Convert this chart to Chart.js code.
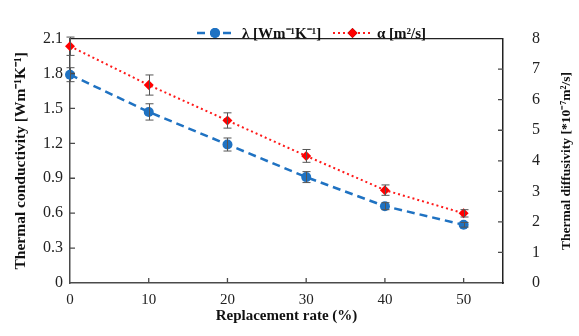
<!DOCTYPE html>
<html>
<head>
<meta charset="utf-8">
<script src="https://cdn.jsdelivr.net/npm/chart.js@4"></script>
<style>
  html, body { margin: 0; padding: 0; background: #fff; }
  #c { display: block; }
</style>
</head>
<body>
<canvas id="c" width="579" height="336"></canvas>
<script>
// dati
const rates = [0, 10, 20, 30, 40, 50];
const lambda = [1.79, 1.47, 1.19, 0.91, 0.66, 0.50];
const lambdaErr = [0.06, 0.07, 0.056, 0.047, 0.03, 0.02];
const alpha = [7.75, 6.48, 5.32, 4.16, 3.04, 2.28];
const alphaErr = [0.3, 0.33, 0.25, 0.21, 0.17, 0.12];

const xTicks = [0, 10, 20, 30, 40, 50];
const leftTicks = [0, 0.3, 0.6, 0.9, 1.2, 1.5, 1.8, 2.1];
const rightTicks = [0, 1, 2, 3, 4, 5, 6, 7, 8];

const serif = '"Liberation Serif", "Times New Roman", serif';
const axisCol = '#4a4a4a';

function punti(vals) {
  return rates.map((r, i) => ({ x: r, y: vals[i] }));
}

// barre di errore, tacche interne, bordo, legenda, titolo destro
const extra = {
  id: 'extra',
  afterDatasetsDraw(chart) {
    const ctx = chart.ctx;
    const a = chart.chartArea;
    const sx = chart.scales.x, sl = chart.scales.y, sr = chart.scales.y2;
    ctx.save();

    // bordo superiore
    ctx.strokeStyle = '#222';
    ctx.lineWidth = 1.2;
    ctx.beginPath();
    ctx.moveTo(a.left, a.top);
    ctx.lineTo(a.right, a.top);
    ctx.stroke();

    // tacche
    ctx.strokeStyle = axisCol;
    ctx.lineWidth = 1.3;
    ctx.beginPath();
    for (const v of xTicks) {
      if (v === 0) continue;
      const px = sx.getPixelForValue(v);
      ctx.moveTo(px, a.bottom); ctx.lineTo(px, a.bottom - 5);
    }
    for (const v of leftTicks) {
      if (v === 0 || v === 2.1) continue;
      const py = sl.getPixelForValue(v);
      ctx.moveTo(a.left, py); ctx.lineTo(a.left + 5, py);
    }
    for (const v of rightTicks) {
      if (v === 0 || v === 8) continue;
      const py = sr.getPixelForValue(v);
      ctx.moveTo(a.right, py); ctx.lineTo(a.right - 5, py);
    }
    ctx.stroke();

    // barre di errore
    const errs = [[lambda, lambdaErr, sl], [alpha, alphaErr, sr]];
    ctx.strokeStyle = '#555';
    ctx.lineWidth = 1;
    ctx.beginPath();
    for (const [vals, ee, sc] of errs) {
      rates.forEach((r, i) => {
        const px = Math.round(sx.getPixelForValue(r)) + 0.5;
        const y1 = sc.getPixelForValue(vals[i] + ee[i]);
        const y2 = sc.getPixelForValue(vals[i] - ee[i]);
        ctx.moveTo(px, y1); ctx.lineTo(px, y2);
        ctx.moveTo(px - 4, y1); ctx.lineTo(px + 4, y1);
        ctx.moveTo(px - 4, y2); ctx.lineTo(px + 4, y2);
      });
    }
    ctx.stroke();

    // legenda
    const leg = [
      { ds: chart.data.datasets[0], x0: 197, x1: 233, tx: 242 },
      { ds: chart.data.datasets[1], x0: 333, x1: 372, tx: 377 }
    ];
    const ly = 33;
    for (const l of leg) {
      ctx.strokeStyle = l.ds.borderColor;
      ctx.lineWidth = l.ds.borderWidth;
      ctx.setLineDash(l.ds.borderDash);
      ctx.beginPath();
      ctx.moveTo(l.x0, ly); ctx.lineTo(l.x1, ly);
      ctx.stroke();
      ctx.setLineDash([]);
      Chart.helpers.drawPoint(ctx, {
        pointStyle: l.ds.pointStyle,
        radius: l.ds.pointRadius,
        borderWidth: 0,
        rotation: 0
      }, (l.x0 + l.x1) / 2, ly);
      ctx.fillStyle = l.ds.pointBackgroundColor;
      ctx.fill();
      ctx.fillStyle = '#111';
      ctx.font = 'bold 15px ' + serif;
      ctx.textAlign = 'left';
      ctx.textBaseline = 'middle';
      ctx.fillText(l.ds.label, l.tx, ly + 1);
    }

    // titolo asse destro
    ctx.translate(567, 161);
    ctx.rotate(-Math.PI / 2);
    ctx.fillStyle = '#111';
    ctx.font = 'bold 13.5px ' + serif;
    ctx.textAlign = 'center';
    ctx.textBaseline = 'middle';
    ctx.fillText('Thermal diffusivity [*10\u207B\u2077m\u00B2/s]', 0, 0);
    ctx.restore();
  }
};

new Chart(document.getElementById('c'), {
  type: 'line',
  data: {
    datasets: [{
      label: '\u03BB [Wm\u207B\u00B9K\u207B\u00B9]',
      data: punti(lambda),
      yAxisID: 'y',
      borderColor: '#1f72c2',
      backgroundColor: '#1f72c2',
      pointBackgroundColor: '#1f72c2',
      borderWidth: 2.5,
      borderDash: [8, 5],
      pointStyle: 'circle',
      pointRadius: 5,
      pointBorderWidth: 0,
      clip: false
    }, {
      label: '\u03B1 [m\u00B2/s]',
      data: punti(alpha),
      yAxisID: 'y2',
      borderColor: '#ff1a1a',
      backgroundColor: '#ff0000',
      pointBackgroundColor: '#ff0000',
      borderWidth: 2,
      borderDash: [2, 3],
      pointStyle: 'rectRot',
      pointRadius: 5,
      pointBorderWidth: 0,
      clip: false
    }]
  },
  options: {
    responsive: false,
    animation: false,
    layout: { padding: { top: 21, left: 0, right: 0, bottom: 0 } },
    plugins: { legend: { display: false }, tooltip: { enabled: false } },
    scales: {
      x: {
        type: 'linear',
        min: 0,
        max: 55,
        afterBuildTicks: s => { s.ticks = xTicks.map(v => ({ value: v })); },
        afterFit: s => { s.height = 53; },
        grid: { display: false, drawTicks: false },
        border: { color: axisCol, width: 1.5 },
        ticks: { color: '#222', padding: 8, font: { family: serif, size: 15 } },
        title: {
          display: true,
          text: 'Replacement rate (%)',
          color: '#111',
          padding: { top: 2, bottom: 11 },
          font: { family: serif, size: 15, weight: 'bold' }
        }
      },
      y: {
        position: 'left',
        min: 0,
        max: 2.1,
        afterBuildTicks: s => { s.ticks = leftTicks.map(v => ({ value: v })); },
        afterFit: s => { s.width = 70; },
        grid: { display: false, drawTicks: false },
        border: { color: axisCol, width: 1.5 },
        ticks: { color: '#222', padding: 7, font: { family: serif, size: 16 },
          callback: v => v === 0 ? '0' : v.toFixed(1) },
        title: {
          display: true,
          text: 'Thermal conductivity [Wm\u207B\u00B9K\u207B\u00B9]',
          color: '#111',
          padding: { top: 12, bottom: 0 },
          font: { family: serif, size: 15.5, weight: 'bold' }
        }
      },
      y2: {
        position: 'right',
        min: 0,
        max: 8,
        afterBuildTicks: s => { s.ticks = rightTicks.map(v => ({ value: v })); },
        afterFit: s => { s.width = 76; },
        grid: { display: false, drawTicks: false },
        border: { color: '#222', width: 1.5 },
        ticks: { color: '#222', padding: 29, font: { family: serif, size: 16 } }
      }
    }
  },
  plugins: [extra]
});
</script>
</body>
</html>
